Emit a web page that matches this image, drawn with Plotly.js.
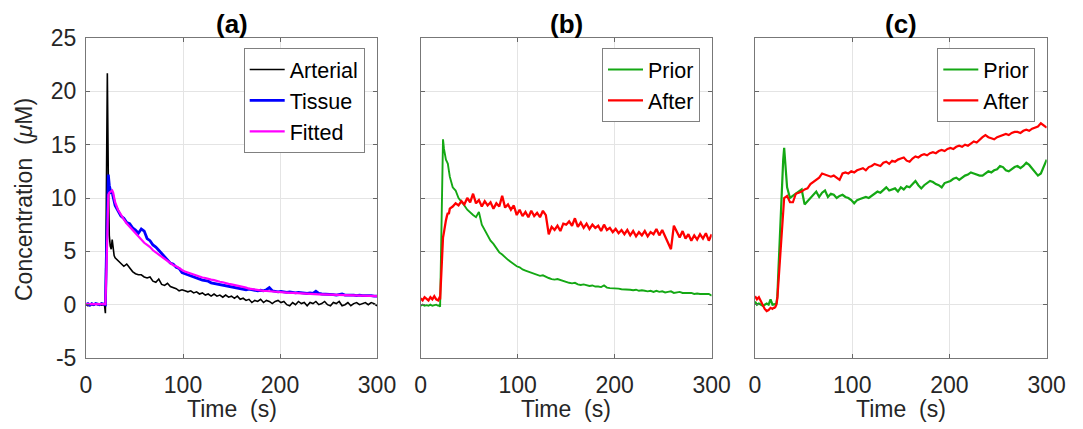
<!DOCTYPE html>
<html>
<head>
<meta charset="utf-8">
<script src="https://cdn.plot.ly/plotly-3.0.1.min.js"></script>
<style>html,body{margin:0;padding:0;background:#fff;}#chart{width:1083px;height:429px;}</style>
</head>
<body>
<div id="chart"></div>
<script>
// Time samples (s)
var time = [0,2,4,6,8,10,12,14,16,18,
  19,20,21,22,23,24,25,26,27,28,29,30,
  33,36,39,42,45,48,51,54,57,60,
  63,66,69,72,75,78,81,84,87,90,
  93,96,99,102,105,108,111,114,117,120,
  123,126,129,132,135,138,141,144,147,150,
  153,156,159,162,165,168,171,174,177,180,
  183,186,189,192,195,198,201,204,207,210,
  213,216,219,222,225,228,231,234,237,240,
  243,246,249,252,255,258,261,264,267,270,
  273,276,279,282,285,288,291,294,297,300];

// Panel (a)
var arterial = [0.0,-0.1,0.05,0.0,-0.05,0.1,0.0,0.05,-0.05,0.0,
  0.0,-0.8,8.0,21.7,12.0,6.5,5.5,5.2,6.1,5.0,4.6,4.4,
  4.1,3.8,3.6,3.8,3.4,3.1,2.9,2.8,2.8,2.6,
  2.5,2.6,2.2,2.1,2.4,1.9,1.8,2.0,1.7,1.6,
  1.5,1.3,1.4,1.3,1.2,1.3,1.1,1.2,1.0,1.1,
  0.9,1.0,0.8,1.0,0.8,0.9,0.7,0.9,0.7,0.8,
  0.6,0.8,0.5,0.6,0.4,0.5,0.2,0.4,0.3,0.5,
  0.2,0.4,0.3,0.1,0.3,0.4,0.2,0.3,0.0,-0.1,
  0.2,0.0,0.3,0.1,0.2,-0.1,0.2,0.1,0.3,0.0,
  0.1,0.3,0.0,-0.1,0.2,0.1,0.3,-0.1,0.0,0.2,
  -0.1,0.1,0.2,0.0,0.1,0.2,0.0,0.2,0.1,-0.1];
var tissue = [0.0,0.1,-0.05,0.1,0.0,0.1,0.05,0.0,0.1,0.05,
  0.0,0.0,4.5,10.5,12.2,11.2,10.8,10.4,10.5,10.1,9.6,9.3,
  8.8,8.3,8.1,7.7,7.6,7.2,7.0,6.7,7.1,6.9,
  6.2,6.0,5.6,5.4,5.1,4.8,4.4,4.2,3.9,3.8,
  3.5,3.4,3.0,2.9,2.8,2.7,2.55,2.5,2.4,2.3,
  2.25,2.2,2.05,2.0,1.95,1.9,1.85,1.8,1.75,1.7,
  1.6,1.6,1.5,1.5,1.4,1.45,1.4,1.35,1.3,1.35,
  1.3,1.4,1.6,1.3,1.25,1.2,1.25,1.2,1.15,1.2,
  1.15,1.1,1.15,1.1,1.1,1.05,1.1,1.05,1.25,1.05,
  1.0,1.0,0.95,1.0,0.95,0.9,0.95,1.0,0.9,0.9,
  0.95,0.9,0.85,0.9,0.85,0.85,0.9,0.85,0.8,0.8];
var fitted = [0.05,0.05,0.05,0.05,0.0,0.05,0.05,0.0,0.05,0.05,
  0.05,0.05,3.0,8.5,10.3,10.5,10.6,10.7,10.7,10.5,10.0,9.6,
  8.9,8.4,8.0,7.6,7.3,6.9,6.6,6.3,6.0,5.8,
  5.6,5.4,5.1,4.9,4.7,4.5,4.3,4.1,3.9,3.7,
  3.6,3.4,3.25,3.1,3.0,2.9,2.8,2.7,2.65,2.55,
  2.5,2.4,2.35,2.3,2.2,2.15,2.1,2.0,1.95,1.9,
  1.85,1.8,1.75,1.7,1.6,1.5,1.45,1.4,1.35,1.3,
  1.3,1.28,1.25,1.22,1.2,1.2,1.18,1.15,1.12,1.1,
  1.1,1.08,1.05,1.05,1.02,1.0,1.0,1.0,0.98,0.97,
  0.96,0.95,0.94,0.93,0.92,0.91,0.9,0.9,0.89,0.88,
  0.87,0.86,0.86,0.85,0.84,0.84,0.83,0.82,0.82,0.81];

// Panel (b)
var priorB = [-0.1,0.0,-0.1,-0.05,-0.1,0.0,-0.1,-0.05,0.0,-0.1,
  -0.05,-0.2,5.0,13.0,15.5,14.6,13.8,13.6,13.4,13.2,12.6,12.0,
  11.0,10.7,10.0,9.7,9.3,8.9,8.6,8.4,8.2,8.7,
  7.5,7.0,6.6,6.0,5.7,5.3,4.9,4.7,4.4,4.2,
  4.0,3.8,3.6,3.5,3.3,3.2,3.1,3.0,2.9,2.8,
  2.7,2.75,2.6,2.5,2.4,2.35,2.4,2.3,2.2,2.15,
  2.05,2.0,2.05,1.9,1.85,1.9,1.8,1.75,1.8,1.7,
  1.7,1.65,1.8,1.6,1.55,1.55,1.5,1.5,1.45,1.45,
  1.4,1.4,1.35,1.4,1.3,1.35,1.3,1.25,1.3,1.2,
  1.3,1.2,1.25,1.15,1.2,1.25,1.1,1.15,1.2,1.1,
  1.1,1.05,1.1,1.0,1.05,1.0,1.0,0.95,1.0,0.85];
var afterB = [0.6,0.4,0.7,0.5,0.4,0.7,0.5,0.8,0.5,0.4,
  0.6,0.5,2.5,5.0,6.3,6.8,7.5,7.9,8.3,8.6,8.5,9.0,
  9.2,9.5,9.3,9.7,9.4,10.0,9.6,10.4,9.5,9.8,
  9.2,9.7,9.3,9.6,9.0,9.5,9.2,10.2,9.1,9.4,
  8.9,9.3,8.4,8.9,8.3,8.7,8.2,8.8,8.3,8.6,
  8.2,8.8,8.4,6.6,7.3,7.0,7.4,6.9,7.6,7.5,
  7.8,7.4,8.1,7.3,7.7,7.2,7.6,7.1,7.5,7.2,
  7.4,6.9,7.5,7.0,7.2,6.8,7.1,6.7,7.0,6.6,
  7.0,6.5,6.9,6.4,6.8,6.5,6.9,6.4,6.8,6.6,
  7.1,6.5,7.0,6.4,5.9,5.2,7.4,6.8,6.3,6.9,
  6.2,6.6,6.0,6.5,6.1,6.6,6.2,6.7,6.0,6.6];

// Panel (c)
var priorC = [0.3,0.0,0.1,0.0,-0.1,0.0,0.1,0.0,0.5,0.0,
  0.0,0.0,0.05,0.1,0.8,3.0,5.5,8.0,10.0,12.0,13.6,14.7,
  11.0,10.0,10.2,10.4,10.6,10.8,9.4,9.7,10.1,10.4,
  10.6,10.1,10.5,10.7,10.1,10.4,10.3,10.0,10.2,10.3,
  10.1,10.0,9.8,9.5,9.8,9.9,10.0,10.1,10.0,10.2,
  10.4,10.6,10.5,10.8,11.0,10.7,10.8,10.9,10.6,11.0,
  10.8,11.1,11.0,11.3,11.6,11.2,10.9,11.2,11.4,11.6,
  11.5,11.3,11.2,11.0,11.4,11.5,11.6,11.8,11.9,11.7,
  11.9,12.1,12.2,12.4,12.3,12.2,12.1,12.1,12.3,12.5,
  12.4,12.6,12.7,13.0,12.9,12.6,12.5,12.7,12.9,13.0,
  12.8,13.0,13.3,13.1,12.8,12.5,12.1,12.3,13.0,13.6];
var afterC = [0.8,0.5,0.7,0.3,0.0,-0.4,-0.6,-0.5,-0.3,-0.4,
  -0.3,-0.3,-0.2,0.0,0.6,2.0,3.5,5.0,6.5,8.0,9.2,10.0,
  10.2,9.6,9.6,10.4,10.5,10.6,10.8,10.9,11.3,11.5,
  11.7,11.9,12.3,12.2,12.1,12.0,12.1,11.9,11.7,12.3,
  12.4,12.3,12.5,12.4,12.6,12.7,12.8,12.6,12.9,13.0,
  13.2,13.1,13.0,13.3,13.4,13.2,13.5,13.4,13.6,13.7,
  13.8,13.5,13.4,13.7,13.9,13.8,14.0,14.1,14.0,14.2,
  14.3,14.2,14.4,14.5,14.4,14.6,14.7,14.6,14.8,14.9,
  14.8,15.0,14.9,15.1,15.3,15.2,15.5,15.7,15.9,15.7,
  15.6,15.5,15.7,15.8,15.9,16.0,15.9,16.1,16.2,16.2,
  16.1,16.3,16.4,16.3,16.5,16.6,16.7,17.0,16.8,16.6];

var xTicks = [0,100,200,300];
var yTicks = [-5,0,5,10,15,20,25];
var panelTitles = ['(a)','(b)','(c)'];
var xTitle = 'Time\u00a0\u00a0(s)';
var yTitle = 'Concentration\u00a0\u00a0(<i>\u03bc</i>M)';

var FONT = 'Liberation Sans, Arial, Helvetica, sans-serif';
var TXT = '#262626';
var GREEN = '#14a814';

var traces = [
  {x: time, y: arterial, name: 'Arterial', xaxis: 'x', yaxis: 'y', legend: 'legend', line: {color: '#000000', width: 1.6}},
  {x: time, y: tissue, name: 'Tissue', xaxis: 'x', yaxis: 'y', legend: 'legend', line: {color: '#0000ff', width: 2.8}},
  {x: time, y: fitted, name: 'Fitted', xaxis: 'x', yaxis: 'y', legend: 'legend', line: {color: '#ff00ff', width: 2.2}},
  {x: time, y: priorB, name: 'Prior', xaxis: 'x2', yaxis: 'y2', legend: 'legend2', line: {color: GREEN, width: 1.9}},
  {x: time, y: afterB, name: 'After', xaxis: 'x2', yaxis: 'y2', legend: 'legend2', line: {color: '#ff0000', width: 2.3}},
  {x: time, y: priorC, name: 'Prior', xaxis: 'x3', yaxis: 'y3', legend: 'legend3', line: {color: GREEN, width: 2.2}},
  {x: time, y: afterC, name: 'After', xaxis: 'x3', yaxis: 'y3', legend: 'legend3', line: {color: '#ff0000', width: 2.2}}
];
traces.forEach(function(t){ t.type = 'scatter'; t.mode = 'lines'; });

var W = 1083, H = 429;
var yTop = 38, yBot = 358;
var xDom = [[86, 377], [420.7, 711.7], [755, 1046.7]];

function xax(i){
  return {
    domain: [xDom[i][0]/W, xDom[i][1]/W], anchor: i === 0 ? 'y' : 'y' + (i+1),
    range: [0, 300], tickvals: xTicks, ticktext: xTicks.map(String),
    ticks: 'inside', ticklen: 4, tickcolor: '#666', tickwidth: 1,
    showline: true, linecolor: '#777', linewidth: 1, mirror: 'ticks',
    showgrid: true, gridcolor: '#e4e4e4', gridwidth: 1, zeroline: false,
    tickfont: {family: FONT, size: 23, color: TXT}, ticklabelstandoff: 6,
    title: {text: ''}, automargin: false, fixedrange: true
  };
}
function yax(i){
  return {
    domain: [1 - yBot/H, 1 - yTop/H], anchor: i === 0 ? 'x' : 'x' + (i+1),
    range: [-5, 25], tickvals: yTicks, ticktext: yTicks.map(String), showticklabels: i === 0,
    ticks: 'inside', ticklen: 4, tickcolor: '#666', tickwidth: 1,
    showline: true, linecolor: '#777', linewidth: 1, mirror: 'ticks',
    showgrid: true, gridcolor: '#e4e4e4', gridwidth: 1, zeroline: false,
    tickfont: {family: FONT, size: 23, color: TXT}, ticklabelstandoff: 4,
    title: {text: ''}, automargin: false, fixedrange: true
  };
}
function leg(xr){
  return {x: xr/W, y: 1 - 48/H, xanchor: 'right', yanchor: 'top', xref: 'paper', yref: 'paper',
    bgcolor: '#ffffff', bordercolor: '#808080', borderwidth: 1,
    font: {family: FONT, size: 21.5, color: '#000'}, tracegroupgap: 0, itemwidth: 35};
}

var annotations = [];
panelTitles.forEach(function(t, i){
  var cx = (xDom[i][0] + xDom[i][1]) / 2 / W;
  annotations.push({text: '<b>' + t + '</b>', xref: 'paper', yref: 'paper',
    x: cx, y: 1 - 24/H, xanchor: 'center', yanchor: 'middle',
    showarrow: false, font: {family: FONT, size: 26, color: '#000'}});
  annotations.push({text: xTitle, xref: 'paper', yref: 'paper',
    x: cx, y: 1 - 409/H, xanchor: 'center', yanchor: 'middle',
    showarrow: false, font: {family: FONT, size: 23, color: TXT}});
});
annotations.push({text: yTitle, xref: 'paper', yref: 'paper', textangle: -90,
  x: 24/W, y: 1 - 200/H, xanchor: 'center', yanchor: 'middle',
  showarrow: false, font: {family: FONT, size: 23, color: TXT}});

var layout = {
  width: W, height: H, margin: {l: 0, r: 0, t: 0, b: 0},
  paper_bgcolor: '#fff', plot_bgcolor: '#fff', showlegend: true,
  xaxis: xax(0), xaxis2: xax(1), xaxis3: xax(2),
  yaxis: yax(0), yaxis2: yax(1), yaxis3: yax(2),
  legend: leg(364.7), legend2: leg(700), legend3: leg(1035.3),
  annotations: annotations
};

Plotly.newPlot('chart', traces, layout, {displayModeBar: false, staticPlot: true});
</script>
</body>
</html>
